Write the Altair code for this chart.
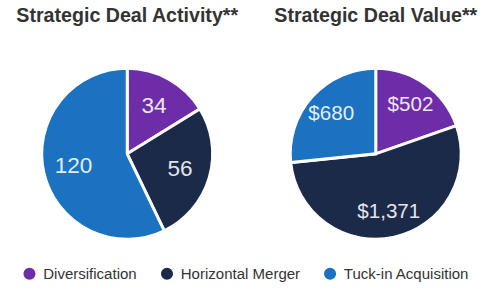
import altair as alt
import pandas as pd

categories = ["Diversification", "Horizontal Merger", "Tuck-in Acquisition"]
colors = ["#6E2DA8", "#1C2A4A", "#1A72C0"]
activity_values = [34, 56, 120]
activity_labels = ["34", "56", "120"]
value_values = [502, 1371, 680]
value_labels = ["$502", "$1,371", "$680"]

df_a = pd.DataFrame({"category": categories, "value": activity_values,
                     "label": activity_labels, "order": [0, 1, 2]})
df_v = pd.DataFrame({"category": categories, "value": value_values,
                     "label": value_labels, "order": [0, 1, 2]})

color_scale = alt.Scale(domain=categories, range=colors)
W, H, R = 253, 200, 87


def pie(df, title, label_r, fs):
    base = alt.Chart(df).encode(
        theta=alt.Theta("value:Q", stack=True),
        order=alt.Order("order:Q"),
    )
    arc = base.mark_arc(outerRadius=R, stroke="white", strokeWidth=3).encode(
        color=alt.Color("category:N", scale=color_scale,
                        legend=alt.Legend(title=None, orient="none", direction="horizontal",
                                          legendX=19, legendY=214, symbolType="circle",
                                          symbolSize=190, labelFontSize=15.3, labelColor="#333333",
                                          columnPadding=20, labelOffset=6, symbolOpacity=1,
                                          labelFont="Liberation Sans"))
    )
    text = base.mark_text(radius=label_r, fontSize=fs, color="white", opacity=0.88,
                          font="Liberation Sans").encode(text="label:N")
    return (arc + text).properties(
        width=W, height=H,
        title=alt.TitleParams(title, fontSize=20, font="Liberation Sans", fontWeight="bold",
                              color="#333333", offset=30, anchor="middle"),
    )


left = pie(df_a, "Strategic Deal Activity**", 56, 23)
right = pie(df_v, "Strategic Deal Value**", 61, 21)

chart = alt.hconcat(left, right, spacing=0).properties(
    padding={"left": 3, "right": 0, "top": 4, "bottom": 0}
).configure_view(stroke=None)

chart.save("out.html", embed_options={"renderer": "svg", "actions": False})
